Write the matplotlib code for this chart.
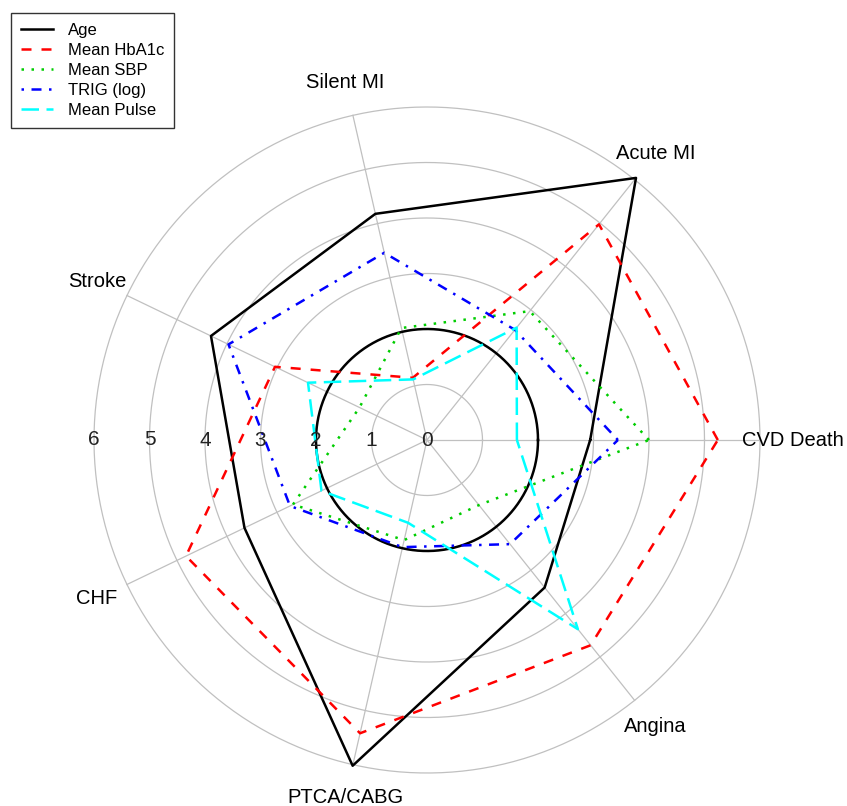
import numpy as np
import matplotlib
matplotlib.use("Agg")
import matplotlib.pyplot as plt

plt.rcParams['font.family'] = ['Liberation Sans', 'DejaVu Sans']

categories = ["CVD Death", "Acute MI", "Silent MI", "Stroke", "CHF", "PTCA/CABG", "Angina"]
age = [2.94, 6.04, 4.18, 4.32, 3.65, 6.02, 3.40]
hba1c = [5.24, 4.97, 1.15, 3.04, 4.82, 5.42, 4.73]
sbp = [4.00, 2.97, 2.07, 1.35, 2.68, 1.85, 1.50]
trig = [3.44, 2.54, 3.46, 3.97, 2.74, 1.98, 2.40]
pulse = [1.62, 2.59, 1.12, 2.38, 2.11, 1.53, 4.36]
series_names = ["Age", "Mean HbA1c", "Mean SBP", "TRIG (log)", "Mean Pulse"]
ring_values = [1, 2, 3, 4, 5, 6]
radial_labels = ["0", "1", "2", "3", "4", "5", "6"]

W, H = 847, 806
fig = plt.figure(figsize=(W / 100, H / 100), dpi=100)
cx, cy, R = 427, 440, 333
ax = fig.add_axes([(cx - R) / W, (H - cy - R) / H, 2 * R / W, 2 * R / H], projection='polar')
ax.set_theta_zero_location('E')
ax.set_theta_direction(1)
ax.set_ylim(0, 6)
ax.grid(False)
ax.set_xticks([])
ax.set_yticks([])
ax.spines['polar'].set_visible(False)

n = len(categories)
angles = np.arange(n) * 2 * np.pi / n
grey = '#c0c0c0'

tt = np.linspace(0, 2 * np.pi, 400)
for rv in ring_values:
    ax.plot(tt, np.full_like(tt, rv), color=grey, lw=0.9, clip_on=False, zorder=1)
for a in angles:
    ax.plot([a, a], [0, 6], color=grey, lw=0.9, clip_on=False, zorder=1)
# reference circle
ax.plot(tt, np.full_like(tt, 2), color='black', lw=1.8, clip_on=False, zorder=2)

lw = 1.8
styles = [
    dict(color='black', linestyle='-'),
    dict(color='#ff0000', linestyle=(0, (4, 4))),
    dict(color='#00cd00', linestyle=(0, (1, 3))),
    dict(color='#0000ff', linestyle=(0, (1, 3, 4, 3))),
    dict(color='#00ffff', linestyle=(0, (7, 3))),
]
data = [age, hba1c, sbp, trig, pulse]
handles = []
th_closed = np.append(angles, angles[0])
for vals, st, name in zip(data, styles, series_names):
    v = np.append(vals, vals[0])
    ln, = ax.plot(th_closed, v, lw=lw, clip_on=False, zorder=3, label=name, **st)
    handles.append(ln)

for a, lab in zip(angles, categories):
    ax.text(a, 6.6, lab, ha='center', va='center', fontsize=14.5, color='black')
for i, lab in enumerate(radial_labels):
    ax.text(np.pi, i, lab, ha='center', va='center', fontsize=15, color='#222222', zorder=4)

leg = fig.legend(handles=handles, loc='upper left', bbox_to_anchor=(11 / W, 1 - 13 / H),
                 fontsize=12, frameon=True, fancybox=False, edgecolor='black',
                 borderpad=0.6, handlelength=1.9, handletextpad=0.9, labelspacing=0.3,
                 borderaxespad=0)
leg.get_frame().set_linewidth(1.0)

fig.savefig('out.png', dpi=100)
